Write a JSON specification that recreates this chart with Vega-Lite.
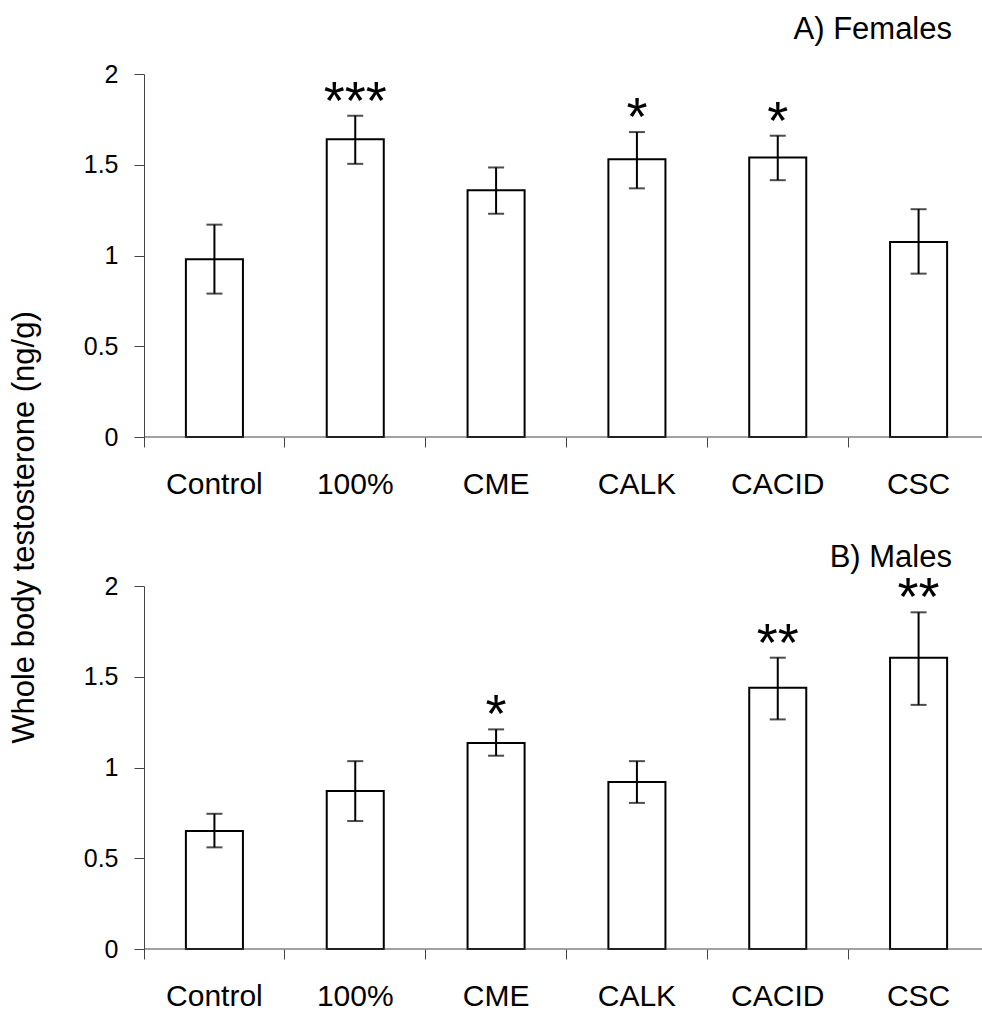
{
  "$schema": "https://vega.github.io/schema/vega-lite/v6.json",
  "background": "white",
  "padding": {"left": 8, "top": 14, "right": 0, "bottom": 0},
  "bounds": "flush",
  "spacing": 149,
  "config": {
    "view": {"stroke": null},
    "font": "Liberation Sans",
    "axis": {
      "grid": false,
      "labelFont": "Liberation Sans",
      "labelFontSize": 30,
      "labelColor": "black",
      "titleFont": "Liberation Sans",
      "titleFontSize": 31,
      "titleFontWeight": "normal",
      "titleColor": "black",
      "domainColor": "#444",
      "tickColor": "#444",
      "tickSize": 10
    },
    "title": {"font": "Liberation Sans", "fontSize": 31, "fontWeight": "normal", "color": "black", "frame": "group"}
  },
  "datasets": {
    "testosterone": [
      {"sex": "Females", "group": "Control", "mean": 0.98, "lo": 0.79, "hi": 1.17, "stars": ""},
      {"sex": "Females", "group": "100%", "mean": 1.64, "lo": 1.505, "hi": 1.77, "stars": "***"},
      {"sex": "Females", "group": "CME", "mean": 1.36, "lo": 1.23, "hi": 1.485, "stars": ""},
      {"sex": "Females", "group": "CALK", "mean": 1.53, "lo": 1.37, "hi": 1.68, "stars": "*"},
      {"sex": "Females", "group": "CACID", "mean": 1.54, "lo": 1.415, "hi": 1.66, "stars": "*"},
      {"sex": "Females", "group": "CSC", "mean": 1.075, "lo": 0.9, "hi": 1.255, "stars": ""},
      {"sex": "Males", "group": "Control", "mean": 0.65, "lo": 0.56, "hi": 0.745, "stars": ""},
      {"sex": "Males", "group": "100%", "mean": 0.87, "lo": 0.705, "hi": 1.035, "stars": ""},
      {"sex": "Males", "group": "CME", "mean": 1.135, "lo": 1.065, "hi": 1.21, "stars": "*"},
      {"sex": "Males", "group": "CALK", "mean": 0.92, "lo": 0.805, "hi": 1.035, "stars": ""},
      {"sex": "Males", "group": "CACID", "mean": 1.44, "lo": 1.265, "hi": 1.605, "stars": "**"},
      {"sex": "Males", "group": "CSC", "mean": 1.605, "lo": 1.345, "hi": 1.855, "stars": "**"}
    ]
  },
  "vconcat": [
    {
      "width": 839,
      "height": 363,
      "title": {"text": "A) Females", "anchor": "end", "dx": -31, "offset": -8, "baseline": "alphabetic"},
      "data": {"name": "testosterone"},
      "transform": [{"filter": "datum.sex === 'Females'"}],
      "layer": [
        {
          "mark": {"type": "bar", "fill": "white", "stroke": "black", "strokeWidth": 2, "width": {"band": 0.405}},
          "encoding": {
            "x": {
              "field": "group", "type": "nominal",
              "sort": ["Control", "100%", "CME", "CALK", "CACID", "CSC"],
              "scale": {"range": [0, 845], "paddingInner": 0, "paddingOuter": 0},
              "axis": {"title": null, "domain": false, "labelAngle": 0, "labelPadding": 22, "bandPosition": 0, "tickExtra": false}
            },
            "y": {
              "field": "mean", "type": "quantitative",
              "title": "Whole body testosterone (ng/g)",
              "scale": {"domain": [0, 2], "nice": false},
              "axis": {
                "values": [0, 0.5, 1, 1.5, 2], "format": "~g", "labelPadding": 16, "labelFontSize": 25,
                "title": "Whole body testosterone (ng/g)",
                "titleAngle": -90, "titleX": -111, "titleY": 453,
                "titleAlign": "center", "titleBaseline": "alphabetic"
              }
            }
          }
        },
        {
          "mark": {"type": "rule", "color": "black", "strokeWidth": 2},
          "encoding": {
            "x": {"field": "group", "type": "nominal", "sort": ["Control", "100%", "CME", "CALK", "CACID", "CSC"]},
            "y": {"field": "lo", "type": "quantitative", "title": "Whole body testosterone (ng/g)"},
            "y2": {"field": "hi"}
          }
        },
        {
          "mark": {"type": "tick", "color": "black", "size": 16, "thickness": 2, "orient": "horizontal"},
          "encoding": {
            "x": {"field": "group", "type": "nominal", "sort": ["Control", "100%", "CME", "CALK", "CACID", "CSC"]},
            "y": {"field": "lo", "type": "quantitative", "title": "Whole body testosterone (ng/g)"}
          }
        },
        {
          "mark": {"type": "tick", "color": "black", "size": 16, "thickness": 2, "orient": "horizontal"},
          "encoding": {
            "x": {"field": "group", "type": "nominal", "sort": ["Control", "100%", "CME", "CALK", "CACID", "CSC"]},
            "y": {"field": "hi", "type": "quantitative", "title": "Whole body testosterone (ng/g)"}
          }
        },
        {
          "transform": [{"filter": "datum.stars !== ''"}],
          "mark": {"type": "text", "font": "Liberation Sans", "fontSize": 54, "fontWeight": "normal", "baseline": "alphabetic", "dy": 3, "color": "black"},
          "encoding": {
            "x": {"field": "group", "type": "nominal", "sort": ["Control", "100%", "CME", "CALK", "CACID", "CSC"]},
            "y": {"field": "hi", "type": "quantitative", "title": "Whole body testosterone (ng/g)"},
            "text": {"field": "stars"}
          }
        },
        {
          "data": {"values": [{}]},
          "mark": {"type": "rule", "color": "#444", "strokeWidth": 1},
          "encoding": {"y": {"datum": 0, "type": "quantitative"}}
        }
      ]
    },
    {
      "width": 839,
      "height": 363,
      "title": {"text": "B) Males", "anchor": "end", "dx": -31, "offset": -26, "baseline": "alphabetic"},
      "data": {"name": "testosterone"},
      "transform": [{"filter": "datum.sex === 'Males'"}],
      "layer": [
        {
          "mark": {"type": "bar", "fill": "white", "stroke": "black", "strokeWidth": 2, "width": {"band": 0.405}},
          "encoding": {
            "x": {
              "field": "group", "type": "nominal",
              "sort": ["Control", "100%", "CME", "CALK", "CACID", "CSC"],
              "scale": {"range": [0, 845], "paddingInner": 0, "paddingOuter": 0},
              "axis": {"title": null, "domain": false, "labelAngle": 0, "labelPadding": 22, "bandPosition": 0, "tickExtra": false}
            },
            "y": {
              "field": "mean", "type": "quantitative",
              "scale": {"domain": [0, 2], "nice": false},
              "axis": {"values": [0, 0.5, 1, 1.5, 2], "format": "~g", "labelPadding": 16, "labelFontSize": 25, "title": null}
            }
          }
        },
        {
          "mark": {"type": "rule", "color": "black", "strokeWidth": 2},
          "encoding": {
            "x": {"field": "group", "type": "nominal", "sort": ["Control", "100%", "CME", "CALK", "CACID", "CSC"]},
            "y": {"field": "lo", "type": "quantitative", "title": null},
            "y2": {"field": "hi"}
          }
        },
        {
          "mark": {"type": "tick", "color": "black", "size": 16, "thickness": 2, "orient": "horizontal"},
          "encoding": {
            "x": {"field": "group", "type": "nominal", "sort": ["Control", "100%", "CME", "CALK", "CACID", "CSC"]},
            "y": {"field": "lo", "type": "quantitative", "title": null}
          }
        },
        {
          "mark": {"type": "tick", "color": "black", "size": 16, "thickness": 2, "orient": "horizontal"},
          "encoding": {
            "x": {"field": "group", "type": "nominal", "sort": ["Control", "100%", "CME", "CALK", "CACID", "CSC"]},
            "y": {"field": "hi", "type": "quantitative", "title": null}
          }
        },
        {
          "transform": [{"filter": "datum.stars !== ''"}],
          "mark": {"type": "text", "font": "Liberation Sans", "fontSize": 54, "fontWeight": "normal", "baseline": "alphabetic", "dy": 3, "color": "black"},
          "encoding": {
            "x": {"field": "group", "type": "nominal", "sort": ["Control", "100%", "CME", "CALK", "CACID", "CSC"]},
            "y": {"field": "hi", "type": "quantitative", "title": null},
            "text": {"field": "stars"}
          }
        },
        {
          "data": {"values": [{}]},
          "mark": {"type": "rule", "color": "#444", "strokeWidth": 1},
          "encoding": {"y": {"datum": 0, "type": "quantitative"}}
        }
      ]
    }
  ]
}
